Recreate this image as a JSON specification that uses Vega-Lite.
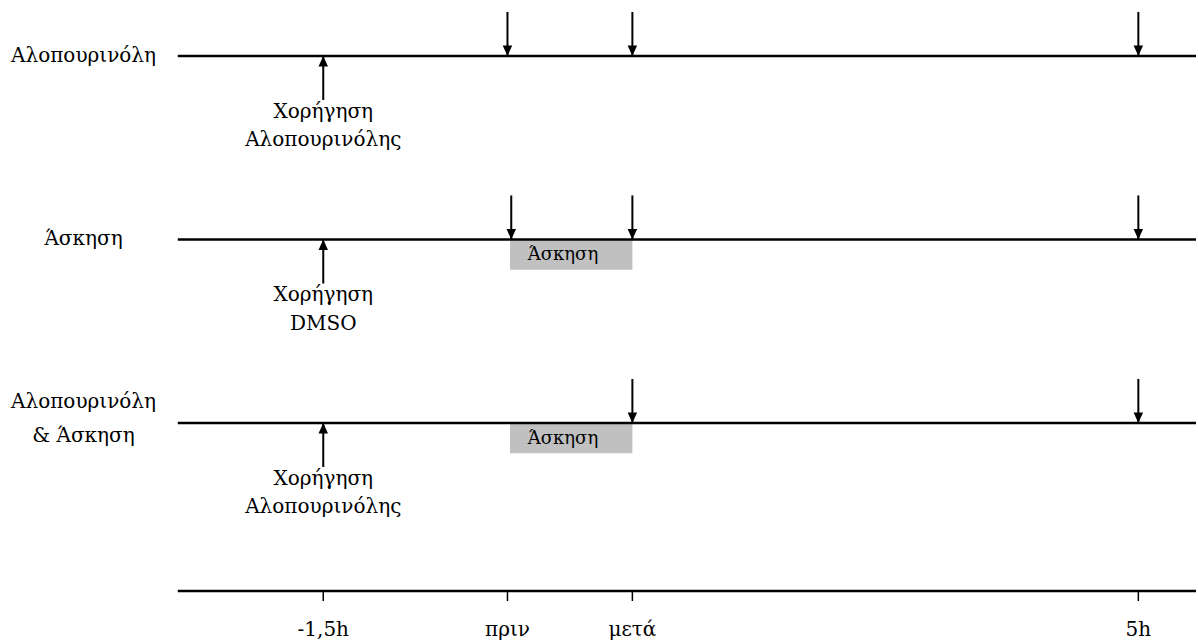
{
  "$schema": "https://vega.github.io/schema/vega-lite/v6.json",
  "width": 1198,
  "height": 641,
  "autosize": {"type": "fit", "contains": "padding"},
  "padding": 0,
  "background": "white",
  "config": {"view": {"stroke": null}, "text": {"font": "DejaVu Serif", "fontSize": 20, "color": "black"}},
  "datasets": {
    "lines": [
      {"group": "Αλοπουρινόλη", "y": 3, "x0": -2.623, "x1": 5.447},
      {"group": "Άσκηση", "y": 2, "x0": -2.623, "x1": 5.447},
      {"group": "Αλοπουρινόλη & Άσκηση", "y": 1, "x0": -2.623, "x1": 5.447},
      {"group": "axis", "y": 0.0845, "x0": -2.623, "x1": 5.447}
    ],
    "boxes": [
      {"y": 2, "t0": 0.01, "t1": 0.98, "tx": 0.43, "label": "Άσκηση"},
      {"y": 1, "t0": 0.01, "t1": 0.98, "tx": 0.43, "label": "Άσκηση"}
    ],
    "down": [
      {"y": 3, "t": -0.01},
      {"y": 3, "t": 0.98},
      {"y": 3, "t": 4.99},
      {"y": 2, "t": 0.02},
      {"y": 2, "t": 0.98},
      {"y": 2, "t": 4.99},
      {"y": 1, "t": 0.98},
      {"y": 1, "t": 4.99}
    ],
    "up": [
      {"y": 3, "t": -1.47},
      {"y": 2, "t": -1.47},
      {"y": 1, "t": -1.47}
    ],
    "notes": [
      {"y": 3, "line": 1, "t": -1.47, "text": "Χορήγηση"},
      {"y": 3, "line": 2, "t": -1.47, "text": "Αλοπουρινόλης"},
      {"y": 2, "line": 1, "t": -1.47, "text": "Χορήγηση"},
      {"y": 2, "line": 2, "t": -1.47, "text": "DMSO"},
      {"y": 1, "line": 1, "t": -1.47, "text": "Χορήγηση"},
      {"y": 1, "line": 2, "t": -1.47, "text": "Αλοπουρινόλης"}
    ],
    "labels": [
      {"y": 3, "text": ["Αλοπουρινόλη"]},
      {"y": 2, "text": ["Άσκηση"]},
      {"y": 1, "text": ["Αλοπουρινόλη", "& Άσκηση"]}
    ],
    "ticks": [
      {"t": -1.47, "label": "-1,5h"},
      {"t": -0.01, "label": "πριν"},
      {"t": 0.98, "label": "μετά"},
      {"t": 4.99, "label": "5h"}
    ]
  },
  "encoding": {},
  "layer": [
    {
      "data": {"name": "boxes"},
      "transform": [{"calculate": "datum.y - 0.165", "as": "yb"}],
      "mark": {"type": "rect", "color": "#c0c0c0"},
      "encoding": {
        "x": {"field": "t0", "type": "quantitative", "scale": {"domain": [-4.032, 5.447], "nice": false, "zero": false}, "axis": null},
        "x2": {"field": "t1"},
        "y": {"field": "y", "type": "quantitative", "scale": {"domain": [-0.188, 3.305], "nice": false, "zero": false}, "axis": null},
        "y2": {"field": "yb"}
      }
    },
    {
      "data": {"name": "boxes"},
      "transform": [{"calculate": "datum.y - 0.085", "as": "yt"}],
      "mark": {"type": "text", "baseline": "middle", "align": "center", "fontSize": 18},
      "encoding": {
        "x": {"field": "tx", "type": "quantitative"},
        "y": {"field": "yt", "type": "quantitative"},
        "text": {"field": "label"}
      }
    },
    {
      "data": {"name": "lines"},
      "mark": {"type": "rule", "color": "black", "strokeWidth": 2.5},
      "encoding": {
        "x": {"field": "x0", "type": "quantitative"},
        "x2": {"field": "x1"},
        "y": {"field": "y", "type": "quantitative"}
      }
    },
    {
      "data": {"name": "down"},
      "transform": [{"calculate": "datum.y + 0.24", "as": "ytop"}],
      "mark": {"type": "rule", "color": "black", "strokeWidth": 2},
      "encoding": {
        "x": {"field": "t", "type": "quantitative"},
        "y": {"field": "y", "type": "quantitative"},
        "y2": {"field": "ytop"}
      }
    },
    {
      "data": {"name": "down"},
      "mark": {"type": "point", "shape": "M-1,-2.2L1,-2.2L0,0Z", "size": 90, "filled": true, "color": "black", "opacity": 1},
      "encoding": {
        "x": {"field": "t", "type": "quantitative"},
        "y": {"field": "y", "type": "quantitative"}
      }
    },
    {
      "data": {"name": "up"},
      "transform": [{"calculate": "datum.y - 0.24", "as": "ybot"}],
      "mark": {"type": "rule", "color": "black", "strokeWidth": 2},
      "encoding": {
        "x": {"field": "t", "type": "quantitative"},
        "y": {"field": "y", "type": "quantitative"},
        "y2": {"field": "ybot"}
      }
    },
    {
      "data": {"name": "up"},
      "mark": {"type": "point", "shape": "M-1,2.2L1,2.2L0,0Z", "size": 90, "filled": true, "color": "black", "opacity": 1},
      "encoding": {
        "x": {"field": "t", "type": "quantitative"},
        "y": {"field": "y", "type": "quantitative"}
      }
    },
    {
      "data": {"name": "notes"},
      "transform": [{"calculate": "datum.line == 1 ? datum.y - 0.305 : datum.y - 0.458", "as": "yn"}],
      "mark": {"type": "text", "baseline": "middle", "align": "center"},
      "encoding": {
        "x": {"field": "t", "type": "quantitative"},
        "y": {"field": "yn", "type": "quantitative"},
        "text": {"field": "text"}
      }
    },
    {
      "data": {"name": "labels"},
      "transform": [{"calculate": "-3.37", "as": "tl"}, {"calculate": "length(datum.text) > 1 ? datum.y + 0.112 : datum.y", "as": "yl"}],
      "mark": {"type": "text", "baseline": "middle", "align": "center", "lineHeight": 34},
      "encoding": {
        "x": {"field": "tl", "type": "quantitative"},
        "y": {"field": "yl", "type": "quantitative"},
        "text": {"field": "text"}
      }
    },
    {
      "data": {"name": "ticks"},
      "transform": [{"calculate": "0.0845", "as": "ya"}, {"calculate": "0.03", "as": "yt"}],
      "mark": {"type": "rule", "color": "black", "strokeWidth": 1.5},
      "encoding": {
        "x": {"field": "t", "type": "quantitative"},
        "y": {"field": "ya", "type": "quantitative"},
        "y2": {"field": "yt"}
      }
    },
    {
      "data": {"name": "ticks"},
      "transform": [{"calculate": "-0.128", "as": "yl"}],
      "mark": {"type": "text", "baseline": "middle", "align": "center"},
      "encoding": {
        "x": {"field": "t", "type": "quantitative"},
        "y": {"field": "yl", "type": "quantitative"},
        "text": {"field": "label"}
      }
    }
  ]
}
